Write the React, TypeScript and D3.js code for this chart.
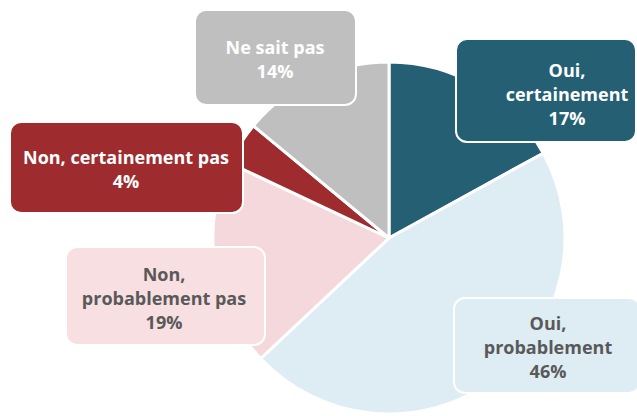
import * as d3 from "d3";
import React from "react";

// survey answers, clockwise from 12 o'clock
const categories = ["Oui, certainement", "Oui, probablement", "Non, probablement pas", "Non, certainement pas", "Ne sait pas"];
const shares = [17, 46, 19, 4, 14];
const labelLines = [
  ["Oui,", "certainement"],
  ["Oui,", "probablement"],
  ["Non,", "probablement pas"],
  ["Non, certainement pas"],
  ["Ne sait pas"],
];

const sliceColors = ["#245f73", "#deedf3", "#f4d8db", "#9e2c2f", "#bfbfbf"];
const boxColors = ["#245f73", "#deedf3", "#f8dfe2", "#9e2c2f", "#bfbfbf"];
const textColors = ["#ffffff", "#595959", "#595959", "#ffffff", "#ffffff"];

// label box placement (x0, y0, x1, y1) and text centre
const boxes = [
  {x0: 456, y0: 39, x1: 636, y1: 142, cx: 567, cy: 95},
  {x0: 454, y0: 298, x1: 640, y1: 393, cx: 548, cy: 348},
  {x0: 66, y0: 247, x1: 265, y1: 345, cx: 164, cy: 299},
  {x0: 10, y0: 122, x1: 243, y1: 213, cx: 126, cy: 170},
  {x0: 195, y0: 10, x1: 356, y1: 105, cx: 275, cy: 60},
];

const W = 637;
const H = 416;
const cx = 389;
const cy = 238;
const R = 176;
const lineH = 24;

export default function App() {
  const pie = d3.pie<number>().sort(null).value(d => d);
  const arcs = pie(shares);
  const arc = d3.arc<d3.PieArcDatum<number>>().innerRadius(0).outerRadius(R);

  return (
    <svg width={W} height={H} style={{position: "absolute", left: 0, top: 0, background: "#fff"}}
         fontFamily="'Open Sans', sans-serif">
      <g transform={`translate(${cx},${cy})`}>
        {arcs.map((a, i) => (
          <path key={categories[i]} d={arc(a) || ""} fill={sliceColors[i]} stroke="#fff" strokeWidth={3} strokeLinejoin="round"/>
        ))}
      </g>
      {boxes.map((b, i) => {
        const lines = [...labelLines[i], `${shares[i]}%`];
        const top = b.cy - ((lines.length - 1) * lineH) / 2;
        return (
          <g key={"lbl" + i}>
            <rect x={b.x0} y={b.y0} width={b.x1 - b.x0} height={b.y1 - b.y0} rx={11}
                  fill={boxColors[i]} stroke="#fff" strokeWidth={2}/>
            {lines.map((t, j) => (
              <text key={j} x={b.cx} y={top + j * lineH} dy="0.35em" textAnchor="middle"
                    fontSize={18} fontWeight={700} fill={textColors[i]}>{t}</text>
            ))}
          </g>
        );
      })}
    </svg>
  );
}
